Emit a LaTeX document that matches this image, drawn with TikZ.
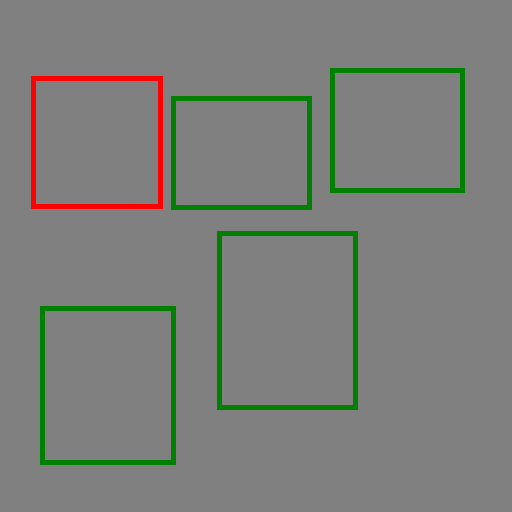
\documentclass[tikz,border=0pt]{standalone}
\definecolor{bggray}{RGB}{128,128,128}
\definecolor{boxred}{RGB}{255,0,0}
\definecolor{boxgreen}{RGB}{0,128,0}
\begin{document}
\begin{tikzpicture}[x=1pt,y=-1pt,
  redbox/.style={draw=boxred,line width=5pt},
  greenbox/.style={draw=boxgreen,line width=5pt}]
\fill[bggray] (0,0) rectangle (512,512);
\useasboundingbox (0,0) rectangle (512,512);
\draw[redbox] (33.5,78.5) rectangle (160.5,206);
\draw[greenbox] (173.5,98.5) rectangle (309.5,207.5);
\draw[greenbox] (332.5,70.5) rectangle (462.5,190.5);
\draw[greenbox] (219.5,233.5) rectangle (355.5,407.5);
\draw[greenbox] (42.5,308) rectangle (173.5,462.5);
\end{tikzpicture}
\end{document}
